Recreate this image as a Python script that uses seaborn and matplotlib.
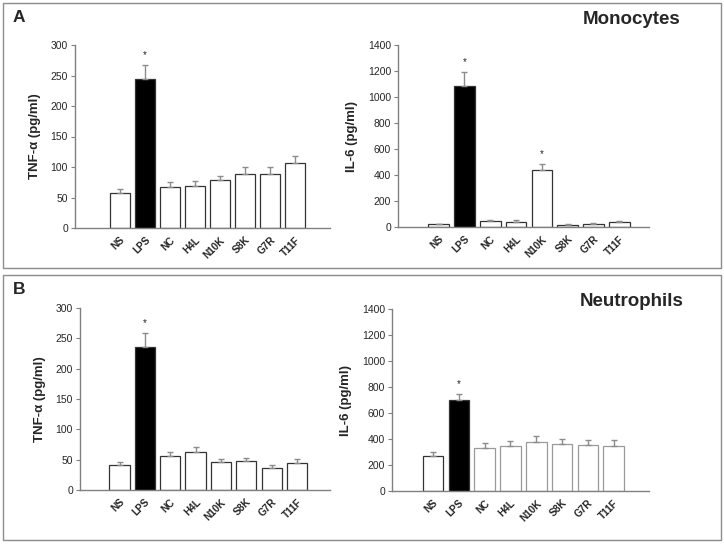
import matplotlib
matplotlib.use("Agg")
import matplotlib.pyplot as plt
import seaborn as sns
import numpy as np
import pandas as pd
from matplotlib.patches import Rectangle

categories = ["NS", "LPS", "NC", "H4L", "N10K", "S8K", "G7R", "T11F"]

mono_tnf = [58, 245, 67, 69.5, 78, 88, 88, 107]
mono_tnf_err = [6.5, 23, 8.5, 8, 8, 11.5, 11.5, 11.5]
mono_il6 = [21, 1087, 46, 38, 436, 15, 23, 36]
mono_il6_err = [3, 103, 8, 16, 46, 5, 5, 8]
neut_tnf = [41.5, 235, 56, 62, 45.5, 47.5, 35.5, 44]
neut_tnf_err = [5, 24.5, 6.5, 8.5, 5, 6, 6.5, 6.5]
neut_il6 = [270, 699, 332, 347, 380, 362, 355, 347]
neut_il6_err = [28, 46, 36, 39, 42, 39, 38, 44]

stars_mono_tnf = ["LPS"]
stars_mono_il6 = ["LPS", "N10K"]
stars_neut_tnf = ["LPS"]
stars_neut_il6 = ["LPS"]

FONT = ["Liberation Sans", "DejaVu Sans"]
sns.set_theme(style="white")
plt.rcParams["font.family"] = FONT

fig = plt.figure(figsize=(7.24, 5.44), dpi=100)

# panel frames
for (y0, y1) in [(3, 268), (275, 540)]:
    fig.patches.append(Rectangle((3 / 724, 1 - y1 / 544), 718 / 724, (y1 - y0) / 544,
                                 transform=fig.transFigure, fill=False,
                                 edgecolor="#8c8c8c", linewidth=1.0))

def px_axes(l, r, t, b):
    return fig.add_axes([l / 724, 1 - b / 544, (r - l) / 724, (b - t) / 544])

def draw(ax, vals, errs, stars, ymax, ystep, ylabel, xlim, edge_light=False):
    df = pd.DataFrame({"cat": categories, "val": vals})
    colors = {c: ("black" if c == "LPS" else "white") for c in categories}
    sns.barplot(data=df, x="cat", y="val", hue="cat", palette=colors, legend=False,
                width=0.8, edgecolor="#333333", linewidth=0.9, ax=ax, errorbar=None)
    if edge_light:
        for i, p in enumerate(ax.patches):
            if i >= 2:
                p.set_edgecolor("#9a9a9a")
    x = np.arange(len(categories))
    ax.errorbar(x, vals, yerr=[np.zeros(len(vals)), errs], fmt="none",
                ecolor="#8c8c8c", elinewidth=1.0, capsize=2.5, capthick=1.0, zorder=1)
    for s in stars:
        i = categories.index(s)
        ax.annotate("*", xy=(i, vals[i] + errs[i]), xytext=(0, 3.5),
                    textcoords="offset points", ha="center", va="bottom",
                    fontsize=7)
    ax.set_ylim(0, ymax)
    ax.set_yticks(np.arange(0, ymax + 1, ystep))
    ax.set_xlim(*xlim)
    ax.set_xlabel("")
    ax.set_ylabel(ylabel, fontsize=9.5, fontweight="bold", labelpad=7)
    ax.set_xticks(x)
    ax.set_xticklabels(categories, rotation=45, ha="right", rotation_mode="anchor",
                       fontsize=7.2, fontweight="bold")
    ax.tick_params(axis="y", labelsize=7.5, length=3, width=0.8, color="#808080",
                   pad=2, left=True, direction="out")
    ax.tick_params(axis="x", length=0, pad=5)
    for sp in ["top", "right"]:
        ax.spines[sp].set_visible(False)
    for sp in ["left", "bottom"]:
        ax.spines[sp].set_color("#808080")
        ax.spines[sp].set_linewidth(1.0)
    ax.set_facecolor("none")

ax1 = px_axes(75, 330, 45, 228)
draw(ax1, mono_tnf, mono_tnf_err, stars_mono_tnf, 300, 50, "TNF-\u03b1 (pg/ml)", (-1.8, 8.4))
ax2 = px_axes(398, 649, 45, 227)
draw(ax2, mono_il6, mono_il6_err, stars_mono_il6, 1400, 200, "IL-6 (pg/ml)", (-1.57, 8.15))
ax3 = px_axes(80, 330, 308, 490)
draw(ax3, neut_tnf, neut_tnf_err, stars_neut_tnf, 300, 50, "TNF-\u03b1 (pg/ml)", (-1.56, 8.3))
ax4 = px_axes(392, 649, 309, 491)
draw(ax4, neut_il6, neut_il6_err, stars_neut_il6, 1400, 200, "IL-6 (pg/ml)", (-1.59, 8.37), edge_light=True)

fig.text(13 / 724, 1 - 18 / 544, "A", fontsize=12.5, fontweight="bold", ha="left", va="center")
fig.text(13 / 724, 1 - 290 / 544, "B", fontsize=12.5, fontweight="bold", ha="left", va="center")
fig.text(680 / 724, 1 - 20 / 544, "Monocytes", fontsize=13.5, fontweight="bold", ha="right", va="center")
fig.text(684 / 724, 1 - 301 / 544, "Neutrophils", fontsize=13.5, fontweight="bold", ha="right", va="center")

fig.savefig("out.png", dpi=100, facecolor="white")
